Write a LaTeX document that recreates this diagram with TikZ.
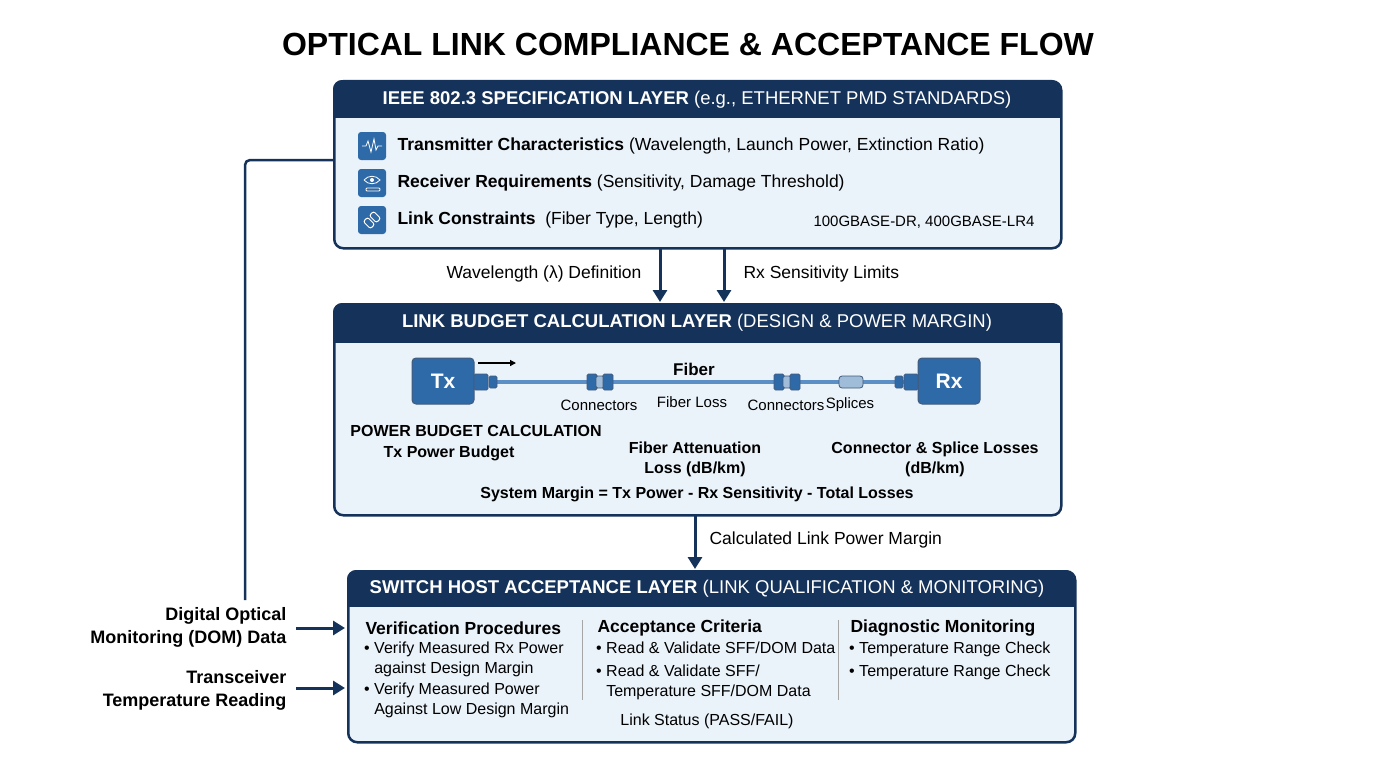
\documentclass[tikz,border=0pt]{standalone}
\usepackage{fontspec}
\setmainfont{Liberation Sans}
\usetikzlibrary{arrows.meta}
\definecolor{navy}{HTML}{14325A}
\definecolor{bodyc}{HTML}{EAF2FA}
\definecolor{blu}{HTML}{2F6AA8}
\definecolor{fib}{HTML}{5B8FC6}
\begin{document}
\begin{tikzpicture}[x=1pt,y=-1pt,
  box/.style={draw=navy,line width=2.5pt,fill=bodyc,rounded corners=9pt},
  htxt/.style={text=white,font=\fontsize{18.5}{20}\selectfont},
  txt/.style={font=\fontsize{17.5}{19}\selectfont,text=black},
  stxt/.style={font=\fontsize{15}{16}\selectfont,text=black,align=center},
  btxt/.style={font=\fontsize{16}{20}\selectfont,text=black,align=left,anchor=north west,inner sep=0},
  bf/.style={font=\bfseries\fontsize{16}{20}\selectfont,align=center},
  arr/.style={draw=navy,line width=3pt,-{Triangle[length=12pt,width=14pt]}},
  icon/.style={fill=blu,rounded corners=3pt,minimum size=28pt,inner sep=0},
  dev/.style={fill=blu,draw=navy!80,line width=1pt,rounded corners=4pt,minimum width=62pt,minimum height=46pt,text=white,font=\bfseries\fontsize{21}{22}\selectfont},
  plug/.style={fill=blu,draw=navy!80,line width=0.8pt,rounded corners=1.5pt}]
\useasboundingbox (0,0) rectangle (1376,768);
\node[font=\bfseries\fontsize{32}{34}\selectfont] (title) at (688,44) {OPTICAL LINK COMPLIANCE \& ACCEPTANCE FLOW};
% Box 1
\node[box,minimum width=727pt,minimum height=167pt,anchor=north west] (b1) at (333,80) {};
\begin{scope}
\clip[rounded corners=9pt] (333,80) rectangle (1060,247);
\fill[navy] (333,80) rectangle (1060,118);
\end{scope}
\node[htxt] (h1) at (697,100) {\textbf{IEEE 802.3 SPECIFICATION LAYER} (e.g., ETHERNET PMD STANDARDS)};
\node[icon] (i1) at (372,146) {};
\draw[white,line width=0.8pt] (362,146)--(366,146)--(368,141)--(371,152)--(374,139)--(376,150)--(378,146)--(382,146);
\node[icon] (i2) at (372,183) {};
\draw[white,line width=0.8pt] (364,180) .. controls (368,175) and (376,175) .. (380,180) .. controls (376,185) and (368,185) .. (364,180);
\fill[white] (372,180) circle (2pt);
\draw[white,line width=0.8pt,rounded corners=1pt] (366,188) rectangle (380,191);
\node[icon] (i3) at (372,220) {};
\draw[white,line width=1pt,rounded corners=2pt,rotate around={-45:(369,223)}] (364,220) rectangle (374,226);
\draw[white,line width=1pt,rounded corners=2pt,rotate around={-45:(375,217)}] (370,214) rectangle (380,220);
\node[txt,anchor=west] (r1) at (394,146) {\textbf{Transmitter Characteristics} (Wavelength, Launch Power, Extinction Ratio)};
\node[txt,anchor=west] (r2) at (394,183) {\textbf{Receiver Requirements} (Sensitivity, Damage Threshold)};
\node[txt,anchor=west] (r3) at (394,220) {\textbf{Link Constraints}\ \ (Fiber Type, Length)};
\node[font=\fontsize{15}{16}\selectfont,anchor=east] (std) at (1038,222) {100GBASE-DR, 400GBASE-LR4};
% Box 2
\node[box,minimum width=727pt,minimum height=211pt,anchor=north west] (b2) at (333,303) {};
\begin{scope}
\clip[rounded corners=9pt] (333,303) rectangle (1060,514);
\fill[navy] (333,303) rectangle (1060,343);
\end{scope}
\node[htxt] (h2) at (697,323) {\textbf{LINK BUDGET CALCULATION LAYER} (DESIGN \& POWER MARGIN)};
\coordinate (a1s) at (660,247); \coordinate (a1e) at (660,302);
\coordinate (a2s) at (724,247); \coordinate (a2e) at (724,302);
\draw[arr] (a1s)--(a1e);
\draw[arr] (a2s)--(a2e);
\node[txt,anchor=east] (l1) at (645,274) {Wavelength (λ) Definition};
\node[txt,anchor=west] (l2) at (740,274) {Rx Sensitivity Limits};
% fiber diagram
\coordinate (fa) at (495,382); \coordinate (fb) at (905,382);
\draw[fib,line width=4pt] (fa)--(fb);
\node[dev] (tx) at (443,381) {Tx};
\node[dev] (rx) at (949,381) {Rx};
\node[plug,minimum width=14pt,minimum height=16pt] (tp1) at (481,382) {};
\node[plug,minimum width=8pt,minimum height=12pt] (tp2) at (493,382) {};
\node[plug,minimum width=14pt,minimum height=16pt] (rp1) at (911,382) {};
\node[plug,minimum width=8pt,minimum height=12pt] (rp2) at (899,382) {};
\foreach \n/\x in {c1/600,c2/787}{
  \node[plug,minimum width=10pt,minimum height=16pt] (\n a) at (\x-8,382) {};
  \node[plug,fill=bodyc!60!blu,minimum width=8pt,minimum height=12pt] (\n b) at (\x,382) {};
  \node[plug,minimum width=10pt,minimum height=16pt] (\n c) at (\x+8,382) {};
}
\node[plug,fill=bodyc!60!blu,rounded corners=3pt,minimum width=24pt,minimum height=12pt] (sp) at (851,382) {};
\coordinate (ta) at (478,363); \coordinate (tb) at (516,363);
\draw[line width=1.3pt,-{Triangle[length=6pt,width=6pt]}] (ta)--(tb);
\node[font=\bfseries\fontsize{17}{18}\selectfont] (fl) at (694,369) {Fiber};
\node[stxt] (lc1) at (599,405) {Connectors};
\node[stxt] (lfl) at (692,402) {Fiber Loss};
\node[stxt] (lc2) at (786,405) {Connectors};
\node[stxt] (lsp) at (850,405) {Splices};
\node[bf] (pb) at (476,431) {POWER BUDGET CALCULATION};
\node[bf] (tpb) at (449,453) {Tx Power Budget};
\node[bf] (fa2) at (695,459) {Fiber Attenuation\\Loss (dB/km)};
\node[bf] (cs) at (935,459) {Connector \& Splice Losses\\(dB/km)};
\node[bf] (sm) at (697,494) {System Margin = Tx Power - Rx Sensitivity - Total Losses};
% arrow to box 3
\coordinate (a3s) at (695,514); \coordinate (a3e) at (695,569);
\draw[arr] (a3s)--(a3e);
\node[txt,anchor=west] (l3) at (706,540) {Calculated Link Power Margin};
% Box 3
\node[box,minimum width=727pt,minimum height=171pt,anchor=north west] (b3) at (347,570) {};
\begin{scope}
\clip[rounded corners=9pt] (347,570) rectangle (1074,741);
\fill[navy] (347,570) rectangle (1074,607);
\end{scope}
\node[htxt] (h3) at (707,589) {\textbf{SWITCH HOST ACCEPTANCE LAYER} (LINK QUALIFICATION \& MONITORING)};
\node[font=\bfseries\fontsize{17.5}{19}\selectfont,anchor=west] (c1h) at (362,628) {Verification Procedures};
\node[font=\bfseries\fontsize{17.5}{19}\selectfont,anchor=west] (c2h) at (594,628) {Acceptance Criteria};
\node[font=\bfseries\fontsize{17.5}{19}\selectfont,anchor=west] (c3h) at (847,628) {Diagnostic Monitoring};
\draw[gray!70,line width=1pt] (582,620)--(582,700);
\draw[gray!70,line width=1pt] (838,620)--(838,700);
\node[btxt] (v1) at (364,642) {\textbullet\ Verify Measured Rx Power\\\phantom{\textbullet\ }against Design Margin};
\node[btxt] (v2) at (364,683) {\textbullet\ Verify Measured Power\\\phantom{\textbullet\ }Against Low Design Margin};
\node[btxt] (ac1) at (596,642) {\textbullet\ Read \& Validate SFF/DOM Data};
\node[btxt] (ac2) at (596,665) {\textbullet\ Read \& Validate SFF/\\\phantom{\textbullet\ }Temperature SFF/DOM Data};
\node[btxt] (d1) at (849,642) {\textbullet\ Temperature Range Check};
\node[btxt] (d2) at (849,665) {\textbullet\ Temperature Range Check};
\node[font=\fontsize{16}{17}\selectfont] (ls) at (707,721) {Link Status (PASS/FAIL)};
% left feedback
\coordinate (fb1) at (245,160); \coordinate (fb2) at (245,600);
\draw[navy,line width=2.5pt,rounded corners=5pt] (fb2)--(fb1)--(b1.west |- fb1);
\node[font=\bfseries\fontsize{18}{23}\selectfont,align=right,anchor=east] (dom) at (290,627) {Digital Optical\\Monitoring (DOM) Data};
\node[font=\bfseries\fontsize{18}{23}\selectfont,align=right,anchor=east] (tmp) at (290,690) {Transceiver\\Temperature Reading};
\coordinate (d3) at (345,628); \coordinate (t3) at (345,688);
\draw[arr] (dom.east |- d3) ++(6,0) -- (d3);
\draw[arr] (tmp.east |- t3) ++(6,0) -- (t3);
\end{tikzpicture}
\end{document}
